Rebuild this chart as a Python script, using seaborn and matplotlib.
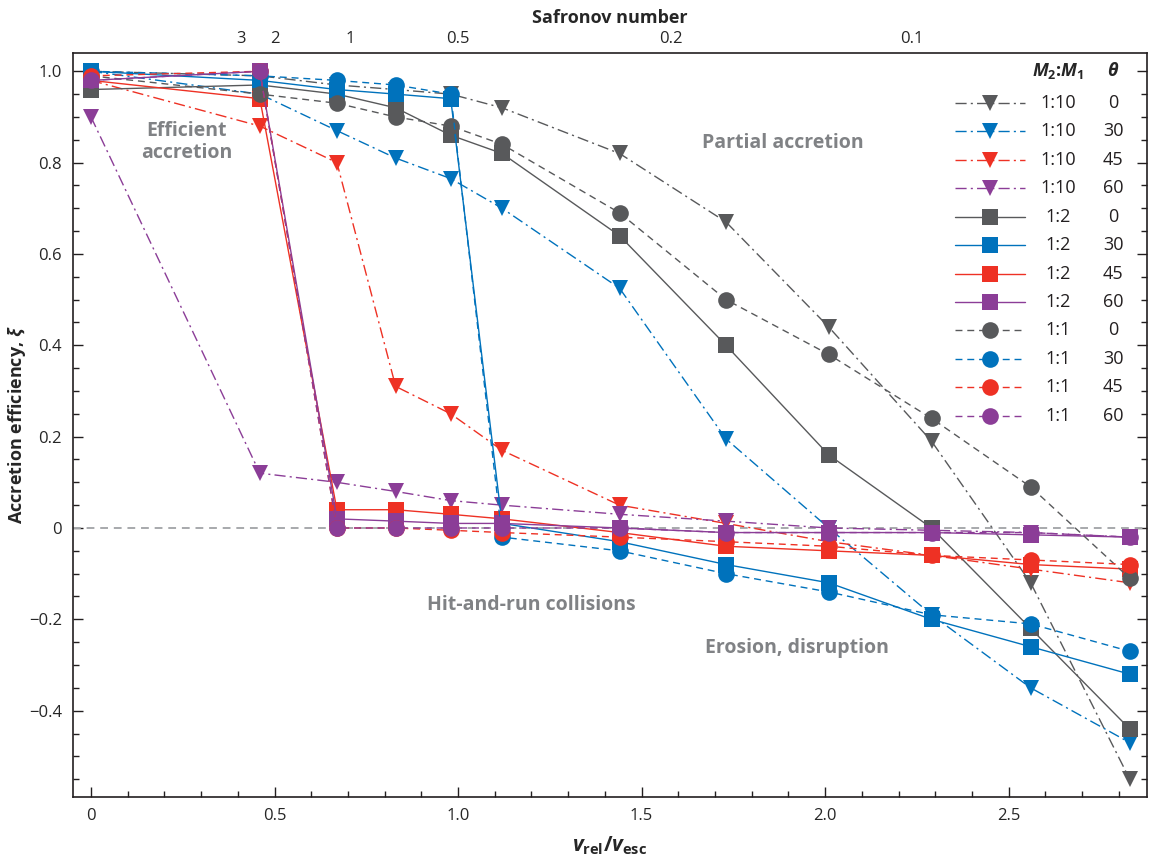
import numpy as np
import pandas as pd
import matplotlib
matplotlib.use("Agg")
import matplotlib.pyplot as plt
import seaborn as sns
from matplotlib.ticker import MultipleLocator, FuncFormatter, FixedLocator

# ---------------- data ----------------
v_ratio = [0, 0.46, 0.67, 0.83, 0.98, 1.12, 1.44, 1.73, 2.01, 2.29, 2.56, 2.83]

# 1:10 mass ratio (triangles)
r110_t0  = [1.00, 0.99, 0.97, 0.96, 0.95, 0.92, 0.82, 0.67, 0.44, 0.19, -0.12, -0.55]
r110_t30 = [1.00, 0.95, 0.87, 0.81, 0.765, 0.70, 0.525, 0.195, 0.00, -0.19, -0.35, -0.47]
r110_t45 = [0.98, 0.88, 0.80, 0.31, 0.25, 0.17, 0.05, 0.01, -0.03, -0.06, -0.09, -0.12]
r110_t60 = [0.90, 0.12, 0.10, 0.08, 0.06, 0.05, 0.03, 0.015, 0.00, -0.005, -0.01, -0.02]
# 1:2 mass ratio (squares)
r12_t0  = [0.96, 0.97, 0.95, 0.92, 0.86, 0.82, 0.64, 0.40, 0.16, 0.00, -0.22, -0.44]
r12_t30 = [1.00, 0.98, 0.96, 0.95, 0.94, 0.01, -0.03, -0.08, -0.12, -0.20, -0.26, -0.32]
r12_t45 = [0.98, 0.94, 0.04, 0.04, 0.03, 0.02, -0.01, -0.04, -0.05, -0.06, -0.08, -0.09]
r12_t60 = [0.98, 1.00, 0.02, 0.015, 0.01, 0.01, 0.00, -0.01, -0.01, -0.01, -0.015, -0.02]
# 1:1 mass ratio (circles)
r11_t0  = [0.99, 0.95, 0.93, 0.90, 0.88, 0.84, 0.69, 0.50, 0.38, 0.24, 0.09, -0.11]
r11_t30 = [1.00, 0.99, 0.98, 0.97, 0.95, -0.02, -0.05, -0.10, -0.14, -0.19, -0.21, -0.27]
r11_t45 = [0.99, 1.00, 0.00, 0.00, -0.005, -0.01, -0.02, -0.03, -0.04, -0.06, -0.07, -0.08]
r11_t60 = [0.98, 1.00, 0.00, 0.00, 0.00, 0.00, 0.00, -0.01, -0.01, -0.01, -0.01, -0.02]

ratio_labels = ["1:10"] * 4 + ["1:2"] * 4 + ["1:1"] * 4
theta_labels = ["0", "30", "45", "60"] * 3
series = [r110_t0, r110_t30, r110_t45, r110_t60,
          r12_t0, r12_t30, r12_t45, r12_t60,
          r11_t0, r11_t30, r11_t45, r11_t60]

safronov_numbers = [3, 2, 1, 0.5, 0.2, 0.1]
safronov_labels = ["3", "2", "1", "0.5", "0.2", "0.1"]

region_labels = ["Efficient\naccretion", "Partial accretion",
                 "Hit-and-run collisions", "Erosion, disruption"]
region_pos = [(0.26, 0.845), (1.886, 0.842), (1.199, -0.168), (1.924, -0.263)]

# ---------------- style ----------------
sns.set_style("ticks")
plt.rcParams["font.family"] = ["Open Sans", "DejaVu Sans"]
plt.rcParams["mathtext.fontset"] = "custom"
plt.rcParams["mathtext.it"] = "Open Sans:italic:bold"
plt.rcParams["mathtext.bf"] = "Open Sans:bold"
plt.rcParams["mathtext.rm"] = "Open Sans:bold"
plt.rcParams["axes.unicode_minus"] = True

theta_colors = {"0": "#58595b", "30": "#0072bc", "45": "#ee3124", "60": "#8b3d97"}
ratio_marker = {"1:10": "v", "1:2": "s", "1:1": "o"}
ratio_ms = {"1:10": 12, "1:2": 11, "1:1": 12}
ratio_ls = {"1:10": (0, (8, 3, 1.5, 3)), "1:2": "-", "1:1": (0, (5, 3.5))}

df = pd.DataFrame({
    "v": np.tile(v_ratio, len(series)),
    "xi": np.concatenate(series),
    "ratio": np.repeat(ratio_labels, len(v_ratio)),
    "theta": np.repeat(theta_labels, len(v_ratio)),
})

fig = plt.figure(figsize=(11.55, 8.61), dpi=100)
ax = fig.add_axes([73 / 1155, 1 - 797 / 861, (1147 - 73) / 1155, (797 - 53) / 861])

ax.axhline(0, color="#a7a9ac", lw=1.4, ls=(0, (4, 3)), zorder=1)

handles = []
for i, (rl, tl) in enumerate(zip(ratio_labels, theta_labels)):
    sub = df[(df.ratio == rl) & (df.theta == tl)]
    n_before = len(ax.lines)
    sns.lineplot(data=sub, x="v", y="xi", ax=ax, estimator=None, sort=False,
                 color=theta_colors[tl], marker=ratio_marker[rl],
                 markersize=ratio_ms[rl], markeredgewidth=0,
                 linestyle=ratio_ls[rl], lw=1.0, legend=False, zorder=3 + i * 0.01)
    handles.append(ax.lines[n_before])

ax.set_xlim(-0.049, 2.877)
ax.set_ylim(-0.589, 1.04)
ax.xaxis.set_major_locator(MultipleLocator(0.5))
ax.xaxis.set_minor_locator(MultipleLocator(0.1))
ax.yaxis.set_major_locator(FixedLocator([-0.4, -0.2, 0, 0.2, 0.4, 0.6, 0.8, 1.0]))
ax.yaxis.set_minor_locator(MultipleLocator(0.05))
fmt = FuncFormatter(lambda v, p: "0" if abs(v) < 1e-9 else f"{v:.1f}".replace("-", "\u2212"))
ax.xaxis.set_major_formatter(fmt)
ax.yaxis.set_major_formatter(fmt)
ax.tick_params(which="both", direction="in", top=True, right=True, width=1.0, color="#231f20")
ax.tick_params(which="major", length=7, labelsize=12, pad=8)
ax.tick_params(which="minor", length=4)
for s in ax.spines.values():
    s.set_linewidth(1.2)
    s.set_color("#231f20")
    s.set_visible(True)

ax.set_xlabel(r"$\mathit{v}_{\mathbf{rel}}/\mathit{v}_{\mathbf{esc}}$", fontsize=15)
ax.xaxis.set_label_coords(0.5, -0.05)
ax.set_ylabel(r"Accretion efficiency, $\mathit{\xi}$", fontsize=13, fontweight="bold")
ax.yaxis.set_label_coords(-0.042, 0.5)

# top Safronov axis
ax2 = ax.twiny()
ax2.set_xlim(ax.get_xlim())
ax2.set_xticks([np.sqrt(0.5 / s) for s in safronov_numbers])
ax2.set_xticklabels(safronov_labels)
ax2.tick_params(axis="x", length=0, labelsize=12, pad=4)
ax2.set_xlabel("Safronov number", fontsize=13, fontweight="bold", labelpad=6)
for s in ax2.spines.values():
    s.set_visible(False)

for txt, (xx, yy) in zip(region_labels, region_pos):
    ax.text(xx, yy, txt, ha="center", va="center", fontsize=14, fontweight="bold",
            color="#808285", linespacing=1.1, zorder=2)

# legend
leg = ax.legend(handles=handles, labels=[""] * len(handles), loc="upper left",
                bbox_to_anchor=((955 - 73) / 1074, 1 - (95 - 53) / 744),
                frameon=False, handlelength=3.9, handletextpad=0.0,
                labelspacing=0.58, fontsize=13, borderpad=0, borderaxespad=0)
fig.canvas.draw()
renderer = fig.canvas.get_renderer()
W, H = fig.get_size_inches() * fig.dpi
ys = []
for h in leg.legend_handles:
    bb = h.get_window_extent(renderer)
    ys.append((bb.y0 + bb.y1) / 2 / H)
col1 = 1058 / W
col2 = 1113 / W
for yv, rl, tl in zip(ys, ratio_labels, theta_labels):
    fig.text(col1, yv, rl, ha="center", va="center", fontsize=13, color="#231f20")
    fig.text(col2, yv, tl, ha="center", va="center", fontsize=13, color="#231f20")
hy = ys[0] + (ys[0] - ys[1]) * 1.1
fig.text(col1, hy, r"$\mathit{M}_{\mathbf{2}}$:$\mathit{M}_{\mathbf{1}}$", ha="center",
         va="center", fontsize=13, fontweight="bold")
fig.text(col2, hy, r"$\mathit{\theta}$", ha="center", va="center", fontsize=13)

fig.savefig("out.png", dpi=100)
